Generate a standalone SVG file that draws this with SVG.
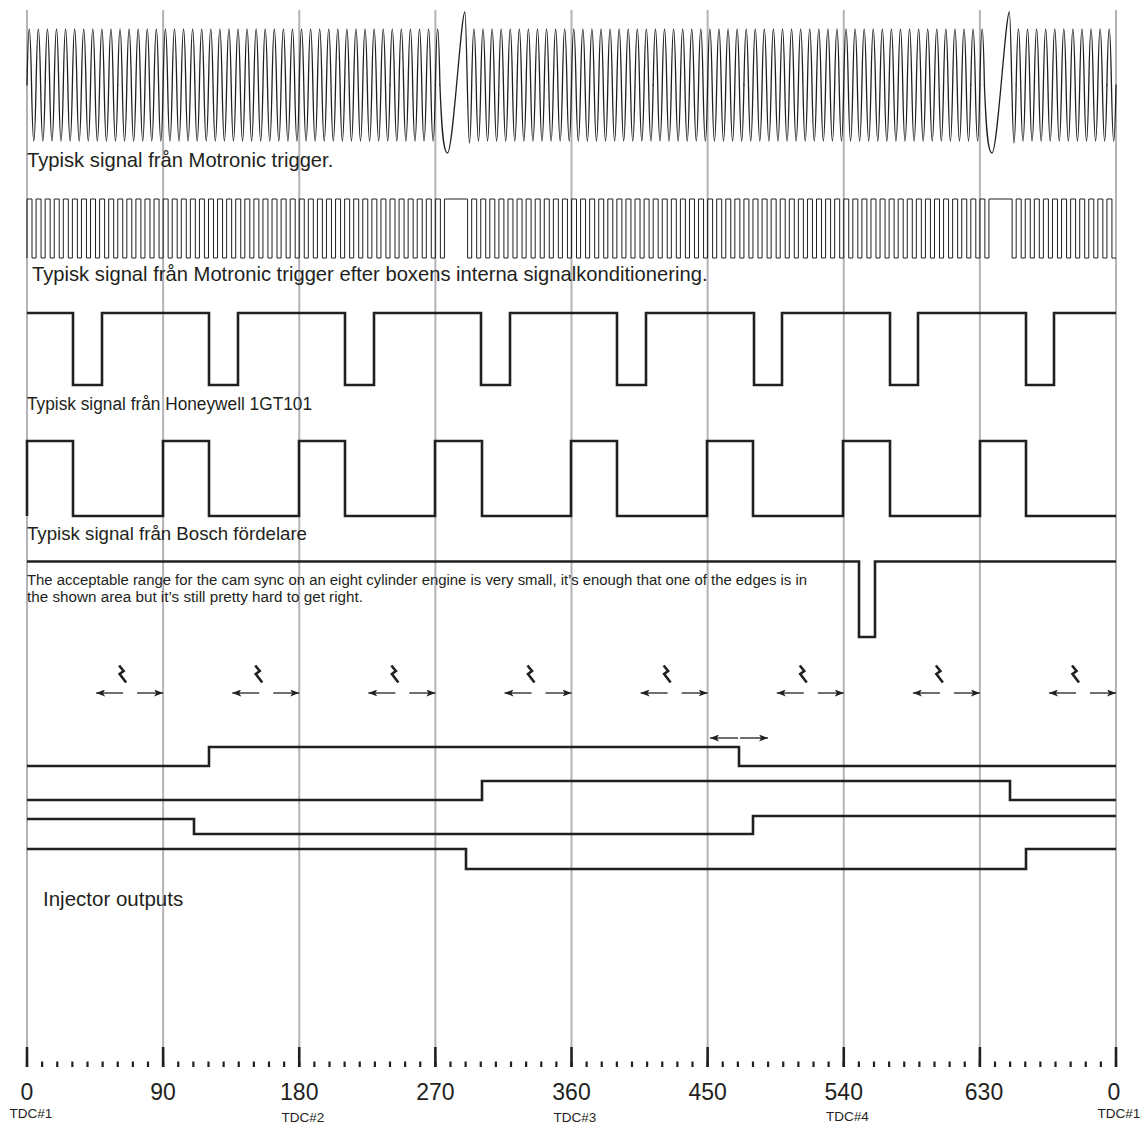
<svg xmlns="http://www.w3.org/2000/svg" width="1148" height="1124" viewBox="0 0 1148 1124">
<style>
.grid{stroke:#b3b3b9;stroke-width:2;fill:none}
.sig{stroke:#231f20;fill:none;stroke-width:2.6;stroke-linejoin:miter}
.thin{stroke:#231f20;fill:none;stroke-width:1.3;stroke-linecap:round}
.sq{stroke:#231f20;fill:none;stroke-width:1}
.arr{stroke:#231f20;stroke-width:1.3;fill:none}
.spark{stroke:#231f20;stroke-width:2.6;fill:none;stroke-linejoin:miter}
.tick{stroke:#231f20;fill:none}
text{font-family:"Liberation Sans",Arial,sans-serif;fill:#231f20}
.lbl{font-size:20.2px}
.note{font-size:15.2px}
.ax{font-size:23px;text-anchor:middle}
.tdc{font-size:13.5px;text-anchor:middle}
</style>
<defs>
<marker id="ah" viewBox="0 0 9 7" refX="9" refY="3.5" markerWidth="9" markerHeight="7" markerUnits="userSpaceOnUse" orient="auto"><path d="M0,0 L9,3.5 L0,7 L2.2,3.5 z" fill="#231f20"/></marker>
<g id="sa">
<path class="spark" d="M-44,665.5 L-39.5,671 L-43.5,674 L-37,682.5"/>
<line class="arr" x1="-40" y1="693" x2="-67" y2="693" marker-end="url(#ah)"/>
<line class="arr" x1="-26" y1="693" x2="0" y2="693" marker-end="url(#ah)"/>
</g>
<path id="snh" class="thin" d="M0,85q2.26875,-112 4.5375,0"/>
<path id="sn1" class="thin" d="M0,85q2.26875,-112 4.5375,0t4.5375,0"/>
<path id="sn5" class="thin" d="M0,85q2.26875,-112 4.5375,0t4.5375,0 4.5375,0 4.5375,0 4.5375,0 4.5375,0 4.5375,0 4.5375,0 4.5375,0 4.5375,0"/>
<path id="sn10" class="thin" d="M0,85q2.26875,-112 4.5375,0t4.5375,0 4.5375,0 4.5375,0 4.5375,0 4.5375,0 4.5375,0 4.5375,0 4.5375,0 4.5375,0 4.5375,0 4.5375,0 4.5375,0 4.5375,0 4.5375,0 4.5375,0 4.5375,0 4.5375,0 4.5375,0 4.5375,0"/>
<path id="sq1" class="sq" d="M0,258v-59h5v59h4.075"/>
<path id="sq5" class="sq" d="M0,258v-59h5v59h4.075v-59h5v59h4.075v-59h5v59h4.075v-59h5v59h4.075v-59h5v59h4.075"/>
<path id="sq10" class="sq" d="M0,258v-59h5v59h4.075v-59h5v59h4.075v-59h5v59h4.075v-59h5v59h4.075v-59h5v59h4.075v-59h5v59h4.075v-59h5v59h4.075v-59h5v59h4.075v-59h5v59h4.075v-59h5v59h4.075"/>
<path id="sqgap" class="sq" d="M0,258v-59h23.15v59h4.075"/>
</defs>
<rect width="1148" height="1124" fill="#ffffff"/>
<g id="grid">
<path class="grid" d="M27,10V1047M163.125,10V1047M299.25,10V1047M435.375,10V1047M571.5,10V1047M707.625,10V1047M843.75,10V1047M979.875,10V1047M1116,10V1047"/>
<path class="tick" stroke-width="2.6" d="M27,1047V1067M163.125,1047V1067M299.25,1047V1067M435.375,1047V1067M571.5,1047V1067M707.625,1047V1067M843.75,1047V1067M979.875,1047V1067M1116,1047V1067"/>
<line class="tick" x1="25.9" y1="1064.25" x2="1118.1" y2="1064.25" stroke-width="5.5" stroke-dasharray="2.2 12.925"/>
</g>
<g id="signal-motronic">
<use href="#sn10" x="27"/>
<use href="#sn10" x="117.75"/>
<use href="#sn10" x="208.5"/>
<use href="#sn10" x="299.25"/>
<use href="#sn5" x="390"/>
<use href="#snh" x="435.375"/>
<path class="thin" d="M439.9125,85 C441.5,125 443,153 447.5,153 C453,153 461,12 464.9,12 C466.5,12 467.8,143 469.4,143 C470.3,143 471.2,112 471.675,85"/>
<use href="#sn10" x="471.675"/>
<use href="#sn10" x="562.425"/>
<use href="#sn10" x="653.175"/>
<use href="#sn10" x="743.925"/>
<use href="#sn10" x="834.675"/>
<use href="#sn5" x="925.425"/>
<use href="#sn1" x="970.8"/>
<use href="#snh" x="979.875"/>
<path class="thin" d="M984.4125,85 C986,125 987.5,153 992,153 C997.5,153 1005.5,12 1009.4,12 C1011,12 1012.3,143 1013.9,143 C1014.8,143 1015.7,112 1016.175,85"/>
<use href="#sn10" x="1016.175"/>
<use href="#sn1" x="1106.925"/>
<text class="lbl" x="27" y="167">Typisk signal från Motronic trigger.</text>
</g>
<g id="signal-conditioned">
<use href="#sq10" x="27"/>
<use href="#sq10" x="117.75"/>
<use href="#sq10" x="208.5"/>
<use href="#sq10" x="299.25"/>
<use href="#sq5" x="390"/>
<use href="#sq1" x="435.375"/>
<use href="#sqgap" x="444.45"/>
<use href="#sq10" x="471.675"/>
<use href="#sq10" x="562.425"/>
<use href="#sq10" x="653.175"/>
<use href="#sq10" x="743.925"/>
<use href="#sq10" x="834.675"/>
<use href="#sq5" x="925.425"/>
<use href="#sq1" x="970.8"/>
<use href="#sq1" x="979.875"/>
<use href="#sqgap" x="988.95"/>
<use href="#sq10" x="1016.175"/>
<use href="#sq1" x="1106.925"/>
<text class="lbl" x="32" y="281">Typisk signal från Motronic trigger efter boxens interna signalkonditionering.</text>
</g>
<g id="signal-honeywell">
<path class="sig" d="M27,313H73V385H102V313H209V385H238V313H345V385H374V313H481V385H510V313H617V385H646V313H754V385H782V313H890V385H918V313H1026V385H1054V313H1116"/>
<text class="lbl" x="27" y="410" style="font-size:18px" textLength="285" lengthAdjust="spacingAndGlyphs">Typisk signal från Honeywell 1GT101</text>
</g>
<g id="signal-bosch">
<path class="sig" d="M27,516V441H73V516H163V441H209V516H299V441H345V516H435V441H482V516H571V441H617V516H707V441H753V516H843V441H890V516H980V441H1026V516H1116"/>
<text class="lbl" x="27" y="540" style="font-size:18.7px" textLength="280" lengthAdjust="spacingAndGlyphs">Typisk signal från Bosch fördelare</text>
</g>
<g id="signal-cam">
<path class="sig" d="M27,561.5H859V637H875V561.5H1116"/>
<text class="note" x="27" y="585" textLength="780" lengthAdjust="spacingAndGlyphs">The acceptable range for the cam sync on an eight cylinder engine is very small, it’s enough that one of the edges is in</text>
<text class="note" x="27" y="602" textLength="336" lengthAdjust="spacingAndGlyphs">the shown area but it’s still pretty hard to get right.</text>
</g>
<g id="sparks">
<use href="#sa" x="163.125"/>
<use href="#sa" x="299.25"/>
<use href="#sa" x="435.375"/>
<use href="#sa" x="571.5"/>
<use href="#sa" x="707.625"/>
<use href="#sa" x="843.75"/>
<use href="#sa" x="979.875"/>
<use href="#sa" x="1116"/>
<line class="arr" x1="738" y1="738" x2="710" y2="738" marker-end="url(#ah)"/>
<line class="arr" x1="740" y1="738" x2="768" y2="738" marker-end="url(#ah)"/>
</g>
<g id="injectors">
<path class="sig" d="M27,766H209V747H739V766H1116"/>
<path class="sig" d="M27,800H482V781H1010V800H1116"/>
<path class="sig" d="M27,819H194V834H753V816H1116"/>
<path class="sig" d="M27,849H466V869H1026V849H1116"/>
<text class="lbl" x="43" y="906" style="font-size:20.5px">Injector outputs</text>
</g>
<g id="axis">
<text class="ax" x="27" y="1100">0</text>
<text class="ax" x="163.125" y="1100">90</text>
<text class="ax" x="299.25" y="1100">180</text>
<text class="ax" x="435.375" y="1100">270</text>
<text class="ax" x="571.5" y="1100">360</text>
<text class="ax" x="707.625" y="1100">450</text>
<text class="ax" x="843.75" y="1100">540</text>
<text class="ax" x="984" y="1100">630</text>
<text class="ax" x="1114" y="1100">0</text>
<text class="tdc" x="31" y="1118">TDC#1</text>
<text class="tdc" x="303" y="1122">TDC#2</text>
<text class="tdc" x="575" y="1122">TDC#3</text>
<text class="tdc" x="847.5" y="1121">TDC#4</text>
<text class="tdc" x="1119" y="1118">TDC#1</text>
</g>
</svg>
